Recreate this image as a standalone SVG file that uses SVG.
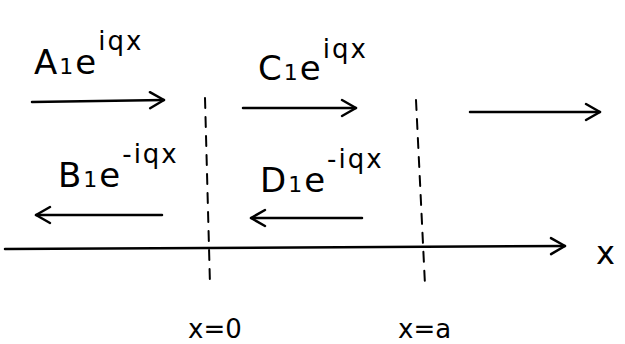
<svg xmlns="http://www.w3.org/2000/svg" width="625" height="344" viewBox="0 0 625 344">
<defs>
<style>
.ln{stroke:#000;stroke-width:2.5;fill:none;stroke-linecap:round;stroke-linejoin:round}
.ds{stroke:#000;stroke-width:2;fill:none;stroke-dasharray:10 9;stroke-linecap:round}
.t{font-family:"DejaVu Sans","Liberation Sans",sans-serif;fill:#000}
.big{font-size:34px;letter-spacing:2px}
.sup{font-size:26px}
</style>
<marker id="ah" viewBox="0 0 20 20" refX="18" refY="10" markerWidth="20" markerHeight="20" markerUnits="userSpaceOnUse" orient="auto">
<polyline points="4,2 18,10 4,18" fill="none" stroke="#000" stroke-width="2.5" stroke-linecap="round" stroke-linejoin="round"/>
</marker>
</defs>
<rect width="625" height="344" fill="#fff"/>
<g id="connectors">
<line class="ln" x1="32" y1="102" x2="164" y2="100" marker-end="url(#ah)"/>
<line class="ln" x1="243" y1="108" x2="356" y2="108" marker-end="url(#ah)"/>
<line class="ln" x1="470" y1="112" x2="600" y2="112" marker-end="url(#ah)"/>
<line class="ln" x1="162" y1="215" x2="36" y2="215" marker-end="url(#ah)"/>
<line class="ln" x1="362" y1="218" x2="251" y2="218" marker-end="url(#ah)"/>
<line class="ln" x1="5" y1="249" x2="565" y2="246" marker-end="url(#ah)"/>
<line class="ds" x1="205" y1="98" x2="210" y2="285"/>
<line class="ds" x1="416" y1="100" x2="425" y2="285"/>
</g>
<g id="label-A">
<text class="t big" x="34" y="74">A<tspan font-size="22">1</tspan>e<tspan class="sup" dy="-24">iqx</tspan></text>
</g>
<g id="label-C">
<text class="t big" x="258" y="80">C<tspan font-size="22">1</tspan>e<tspan class="sup" dy="-22">iqx</tspan></text>
</g>
<g id="label-B">
<text class="t big" x="58" y="187">B<tspan font-size="22">1</tspan>e<tspan class="sup" dy="-24">-iqx</tspan></text>
</g>
<g id="label-D">
<text class="t big" x="260" y="192">D<tspan font-size="22">1</tspan>e<tspan class="sup" dy="-24">-iqx</tspan></text>
</g>
<g id="label-x0">
<text class="t" font-size="26" x="188" y="338">x=0</text>
</g>
<g id="label-xa">
<text class="t" font-size="26" x="398" y="338">x=a</text>
</g>
<g id="label-x">
<text class="t" font-size="32" x="596" y="264">x</text>
</g>
</svg>
